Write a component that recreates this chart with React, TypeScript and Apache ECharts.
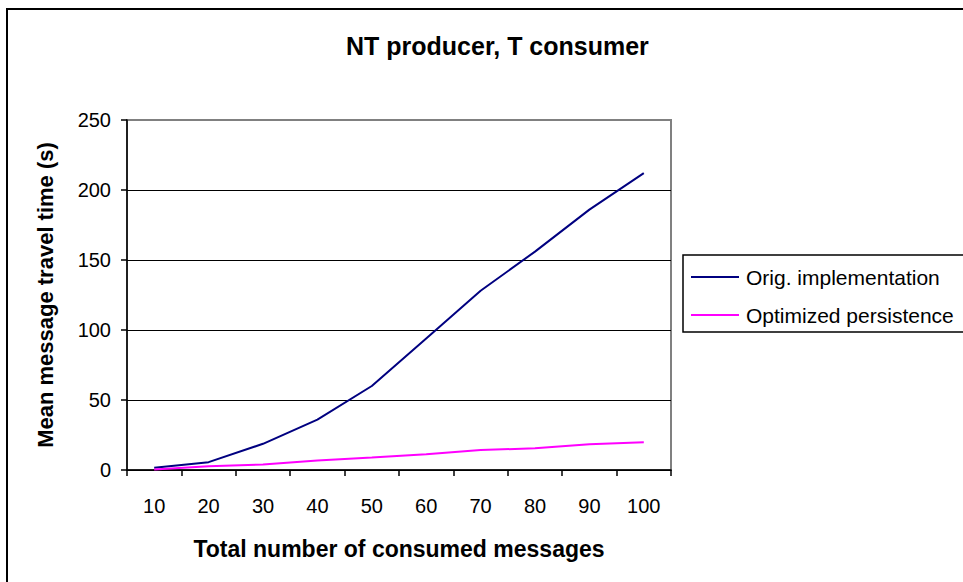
import React, { useEffect, useRef } from "react";
import * as echarts from "echarts";

const categories = ["10", "20", "30", "40", "50", "60", "70", "80", "90", "100"];
const origImplementation = [1.6, 5.6, 18.7, 36, 60, 94, 128, 156, 186, 212];
const optimizedPersistence = [0.4, 2.7, 3.9, 6.8, 8.9, 11.3, 14.2, 15.6, 18.4, 19.9];
const seriesNames = ["Orig. implementation", "Optimized persistence"];
const titleText = "NT producer, T consumer";
const xTitle = "Total number of consumed messages";
const yTitle = "Mean message travel time (s)";

const FONT = "'Liberation Sans', Arial, sans-serif";

export default function App() {
  const ref = useRef<HTMLDivElement>(null);
  useEffect(() => {
    if (!ref.current) return;
    const chart = echarts.init(ref.current, null, { renderer: "svg" });
    chart.setOption({
      animation: false,
      backgroundColor: "#ffffff",
      textStyle: { fontFamily: FONT },
      title: {
        text: titleText,
        left: 346,
        top: 33,
        padding: 0,
        textStyle: { fontFamily: FONT, fontSize: 25, fontWeight: "bold", color: "#000" },
      },
      graphic: [
        {
          type: "rect",
          shape: { x: 7, y: 9, width: 1000, height: 620 },
          style: { fill: "none", stroke: "#000", lineWidth: 2 },
          silent: true,
          z: -1,
        },
      ],
      legend: {
        show: true,
        orient: "vertical",
        left: 683,
        top: 255,
        padding: [11, 40, 6, 8],
        itemGap: 16,
        itemWidth: 48,
        itemHeight: 2,
        icon: "rect",
        borderColor: "#000",
        borderWidth: 1.5,
        backgroundColor: "#fff",
        data: seriesNames,
        textStyle: { fontFamily: FONT, fontSize: 21, color: "#000", lineHeight: 22, padding: [0, 0, 0, 2] },
      },
      grid: {
        left: 127,
        right: 292,
        top: 120,
        bottom: 112,
        show: true,
        borderColor: "#808080",
        borderWidth: 2,
        backgroundColor: "transparent",
      },
      xAxis: {
        type: "category",
        data: categories,
        boundaryGap: true,
        name: xTitle,
        nameLocation: "middle",
        nameGap: 67,
        nameTextStyle: { fontFamily: FONT, fontSize: 23, fontWeight: "bold", color: "#000" },
        axisLine: { show: true, lineStyle: { color: "#000", width: 1.5 } },
        axisTick: { show: true, length: 6, lineStyle: { color: "#000", width: 1.5 } },
        axisLabel: { margin: 26, fontSize: 20, color: "#000", fontFamily: FONT, interval: 0 },
        splitLine: { show: false },
      },
      yAxis: {
        type: "value",
        min: 0,
        max: 250,
        interval: 50,
        name: yTitle,
        nameLocation: "middle",
        nameGap: 71,
        nameTextStyle: { fontFamily: FONT, fontSize: 22, fontWeight: "bold", color: "#000" },
        axisLine: { show: true, lineStyle: { color: "#000", width: 1.5 } },
        axisTick: { show: true, length: 6, lineStyle: { color: "#000", width: 1.5 } },
        axisLabel: { margin: 16, fontSize: 20, color: "#000", fontFamily: FONT },
        splitLine: {
          show: true,
          lineStyle: { color: ["#000", "#000", "#000", "#000", "#000", "#808080"], width: 1.2 },
        },
      },
      series: [
        {
          name: seriesNames[0],
          type: "line",
          data: origImplementation,
          symbol: "none",
          showSymbol: false,
          lineStyle: { color: "#000080", width: 2 },
          itemStyle: { color: "#000080" },
        },
        {
          name: seriesNames[1],
          type: "line",
          data: optimizedPersistence,
          symbol: "none",
          showSymbol: false,
          lineStyle: { color: "#FF00FF", width: 2 },
          itemStyle: { color: "#FF00FF" },
        },
      ],
    });
    return () => chart.dispose();
  }, []);
  return (
    <div
      ref={ref}
      style={{ position: "absolute", left: 0, top: 0, width: 963, height: 582, overflow: "hidden" }}
    />
  );
}
